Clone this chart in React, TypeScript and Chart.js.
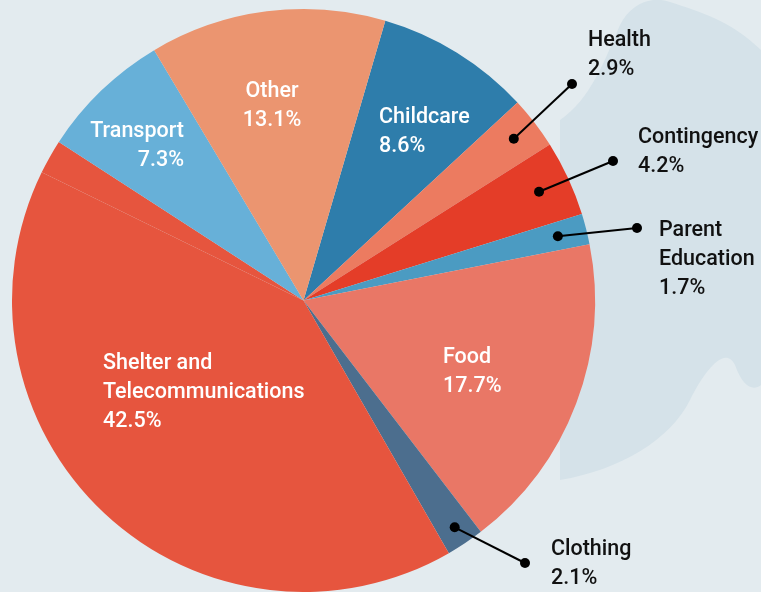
import React, { useEffect, useRef } from "react";
import { Chart, registerables } from "chart.js";

Chart.register(...registerables);

const categories = [
  "Childcare",
  "Health",
  "Contingency",
  "Parent Education",
  "Food",
  "Clothing",
  "Shelter",
  "Telecommunications",
  "Transport",
  "Other",
];
const values = [8.6, 2.9, 4.2, 1.7, 17.7, 2.1, 40.6, 1.9, 7.3, 13.1];
const colors = [
  "#2e7dab",
  "#ec7b60",
  "#e43d28",
  "#4b9bc2",
  "#e97766",
  "#4c6e8e",
  "#e6553e",
  "#e6553e",
  "#67b0d8",
  "#eb9570",
];

// label lines (text) for each displayed label
const labelLines: string[][] = [
  ["Childcare", "8.6%"],
  ["Health", "2.9%"],
  ["Contingency", "4.2%"],
  ["Parent", "Education", "1.7%"],
  ["Food", "17.7%"],
  ["Clothing", "2.1%"],
  ["Shelter and", "Telecommunications", "42.5%"],
  [],
  ["Transport", "7.3%"],
  ["Other", "13.1%"],
];

type Layout = {
  x: number;
  y: number;
  align: CanvasTextAlign;
  color: string;
  leader?: { f: number; ex: number; ey: number };
} | null;
const layouts: Layout[] = [
  { x: 379, y: 123, align: "left", color: "#ffffff" },
  { x: 588, y: 46, align: "left", color: "#111111", leader: { f: 0.91, ex: 572, ey: 84 } },
  { x: 638, y: 143, align: "left", color: "#111111", leader: { f: 0.89, ex: 613, ey: 161 } },
  { x: 659, y: 236, align: "left", color: "#111111", leader: { f: 0.9, ex: 637, ey: 228 } },
  { x: 443, y: 363, align: "left", color: "#ffffff" },
  { x: 551, y: 555, align: "left", color: "#111111", leader: { f: 0.935, ex: 525, ey: 563 } },
  { x: 103, y: 369, align: "left", color: "#ffffff" },
  null,
  { x: 184, y: 137, align: "right", color: "#ffffff" },
  { x: 272, y: 97, align: "center", color: "#ffffff" },
];

const FONT = "500 21.5px Roboto, 'DejaVu Sans', sans-serif";
const LINE_H = 29;

const bgPlugin = {
  id: "bgBlob",
  beforeDraw(chart: any) {
    const ctx = chart.ctx as CanvasRenderingContext2D;
    const w = chart.width;
    const h = chart.height;
    ctx.save();
    ctx.fillStyle = "#e3ebef";
    ctx.fillRect(0, 0, w, h);
    ctx.fillStyle = "#d5e2e9";
    ctx.beginPath();
    ctx.moveTo(560, 120);
    ctx.bezierCurveTo(590, 100, 605, 60, 620, 25);
    ctx.bezierCurveTo(630, 5, 650, -5, 670, 2);
    ctx.bezierCurveTo(700, 12, 730, 20, 761, 50);
    ctx.lineTo(761, 385);
    ctx.bezierCurveTo(752, 392, 742, 385, 735, 365);
    ctx.bezierCurveTo(725, 345, 705, 370, 690, 400);
    ctx.bezierCurveTo(670, 440, 620, 470, 560, 480);
    ctx.closePath();
    ctx.fill();
    ctx.restore();
  },
};

const labelPlugin = {
  id: "sliceLabels",
  afterDraw(chart: any) {
    const ctx = chart.ctx as CanvasRenderingContext2D;
    const meta = chart.getDatasetMeta(0);
    ctx.save();
    ctx.font = FONT;
    meta.data.forEach((arc: any, i: number) => {
      const lay = layouts[i];
      if (!lay) return;
      const p = arc.getProps(["x", "y", "startAngle", "endAngle", "outerRadius"], true);
      if (lay.leader) {
        const mid = (p.startAngle + p.endAngle) / 2;
        const r = p.outerRadius * lay.leader.f;
        const sx = p.x + Math.cos(mid) * r;
        const sy = p.y + Math.sin(mid) * r;
        ctx.strokeStyle = "#000000";
        ctx.fillStyle = "#000000";
        ctx.lineWidth = 2;
        ctx.beginPath();
        ctx.moveTo(sx, sy);
        ctx.lineTo(lay.leader.ex, lay.leader.ey);
        ctx.stroke();
        ctx.beginPath();
        ctx.arc(sx, sy, 5, 0, Math.PI * 2);
        ctx.fill();
        ctx.beginPath();
        ctx.arc(lay.leader.ex, lay.leader.ey, 5, 0, Math.PI * 2);
        ctx.fill();
      }
      ctx.fillStyle = lay.color;
      ctx.textAlign = lay.align;
      ctx.textBaseline = "alphabetic";
      labelLines[i].forEach((t, k) => {
        ctx.fillText(t, lay.x, lay.y + k * LINE_H);
      });
    });
    ctx.restore();
  },
};

export default function App() {
  const ref = useRef<HTMLCanvasElement | null>(null);
  useEffect(() => {
    if (!ref.current) return;
    const chart = new Chart(ref.current, {
      type: "pie",
      data: {
        labels: categories,
        datasets: [
          {
            data: values,
            backgroundColor: colors,
            borderWidth: 0,
          },
        ],
      },
      options: {
        responsive: false,
        animation: false,
        rotation: 16.3,
        layout: { padding: { left: 12, right: 166, top: 9, bottom: 0 } },
        plugins: {
          legend: { display: false },
          tooltip: { enabled: false },
        },
      },
      plugins: [bgPlugin, labelPlugin],
    });
    return () => chart.destroy();
  }, []);
  return (
    <div style={{ position: "fixed", left: 0, top: 0, width: 761, height: 592 }}>
      <canvas ref={ref} width={761} height={592} style={{ display: "block" }} />
    </div>
  );
}
